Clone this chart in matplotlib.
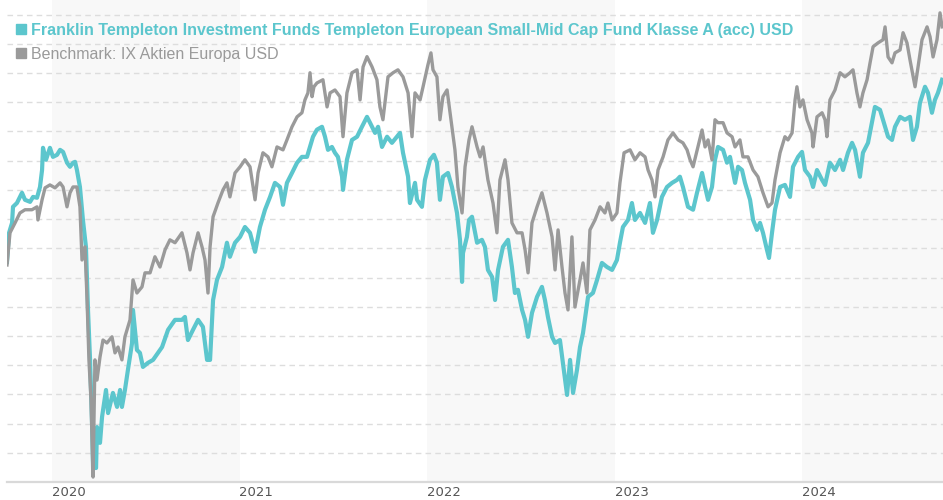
import matplotlib.pyplot as plt
from matplotlib.lines import Line2D

# performance index, time in decimal years
fund_t = [2019.760, 2019.771, 2019.787, 2019.792, 2019.813, 2019.840, 2019.856, 2019.883, 2019.899, 2019.920,
          2019.936, 2019.947, 2019.952, 2019.968, 2019.989, 2020.005, 2020.027, 2020.043, 2020.059, 2020.080,
          2020.096, 2020.112, 2020.123, 2020.133, 2020.149, 2020.165, 2020.181, 2020.192, 2020.203, 2020.213,
          2020.219, 2020.235, 2020.240, 2020.256, 2020.267, 2020.288, 2020.299, 2020.325, 2020.347, 2020.363,
          2020.373, 2020.389, 2020.405, 2020.427, 2020.432, 2020.453, 2020.469, 2020.485, 2020.512, 2020.539,
          2020.565, 2020.587, 2020.619, 2020.656, 2020.693, 2020.709, 2020.725, 2020.752, 2020.779, 2020.805,
          2020.827, 2020.843, 2020.859, 2020.880, 2020.907, 2020.933, 2020.949, 2020.976, 2021.003, 2021.029,
          2021.056, 2021.083, 2021.109, 2021.136, 2021.163, 2021.189, 2021.216, 2021.232, 2021.253, 2021.280,
          2021.307, 2021.333, 2021.360, 2021.376, 2021.392, 2021.413, 2021.440, 2021.456, 2021.472, 2021.493,
          2021.509, 2021.525, 2021.547, 2021.552, 2021.573, 2021.600, 2021.627, 2021.653, 2021.680, 2021.696,
          2021.723, 2021.739, 2021.760, 2021.787, 2021.813, 2021.840, 2021.856, 2021.872, 2021.899, 2021.909,
          2021.936, 2021.947, 2021.973, 2021.989, 2022.016, 2022.037, 2022.053, 2022.069, 2022.085, 2022.112,
          2022.133, 2022.160, 2022.176, 2022.187, 2022.192, 2022.213, 2022.224, 2022.240, 2022.267, 2022.293,
          2022.309, 2022.325, 2022.347, 2022.363, 2022.379, 2022.405, 2022.432, 2022.453, 2022.469, 2022.485,
          2022.507, 2022.523, 2022.539, 2022.560, 2022.587, 2022.613, 2022.629, 2022.645, 2022.667, 2022.683,
          2022.709, 2022.725, 2022.747, 2022.763, 2022.779, 2022.800, 2022.816, 2022.832, 2022.859, 2022.885,
          2022.907, 2022.933, 2022.960, 2022.987, 2023.013, 2023.029, 2023.045, 2023.072, 2023.093, 2023.109,
          2023.136, 2023.163, 2023.189, 2023.205, 2023.227, 2023.253, 2023.280, 2023.307, 2023.333, 2023.349,
          2023.365, 2023.392, 2023.419, 2023.440, 2023.467, 2023.483, 2023.499, 2023.520, 2023.536, 2023.552,
          2023.579, 2023.600, 2023.616, 2023.643, 2023.659, 2023.680, 2023.696, 2023.723, 2023.739, 2023.760,
          2023.776, 2023.792, 2023.813, 2023.824, 2023.840, 2023.856, 2023.883, 2023.909, 2023.936, 2023.952,
          2023.979, 2024.000, 2024.016, 2024.043, 2024.059, 2024.080, 2024.107, 2024.123, 2024.149, 2024.176,
          2024.203, 2024.219, 2024.245, 2024.267, 2024.283, 2024.309, 2024.325, 2024.352, 2024.373, 2024.389,
          2024.416, 2024.432, 2024.459, 2024.480, 2024.496, 2024.523, 2024.549, 2024.576, 2024.592, 2024.613,
          2024.629, 2024.656, 2024.672, 2024.693, 2024.709, 2024.725, 2024.747]
fund_v = [75.3, 85.3, 88.7, 94.2, 95.5, 99.0, 96.6, 95.9, 97.6, 97.3,
          101.0, 106.8, 114.4, 110.3, 114.4, 111.3, 112.0, 113.7, 113.0, 109.3,
          107.9, 109.3, 109.6, 106.8, 101.0, 89.7, 80.5, 58.9, 41.8, 21.2,
          4.8, 4.8, 18.8, 13.4, 22.3, 31.5, 23.6, 30.5, 25.7, 31.5,
          25.7, 31.5, 38.4, 47.6, 58.9, 45.2, 44.2, 39.4, 40.8, 41.8,
          44.2, 46.2, 52.1, 55.5, 55.5, 56.5, 48.6, 52.1, 55.5, 53.1,
          41.8, 41.8, 62.3, 69.2, 73.6, 81.9, 77.1, 81.9, 83.9, 87.3,
          85.3, 78.8, 87.3, 93.2, 97.6, 102.4, 101.0, 94.9, 102.4, 105.8,
          109.3, 111.3, 111.3, 114.7, 118.2, 120.6, 121.6, 118.2, 113.7, 114.7,
          112.7, 111.3, 104.5, 100.0, 110.3, 117.1, 118.2, 121.6, 125.0, 123.0,
          119.5, 121.6, 114.7, 118.2, 116.1, 118.2, 119.5, 112.7, 104.5, 95.5,
          102.4, 96.6, 94.2, 103.4, 110.3, 112.0, 109.3, 96.6, 104.5, 105.8,
          101.0, 92.1, 82.9, 68.5, 78.4, 83.9, 89.7, 90.8, 81.9, 82.9,
          80.5, 72.6, 70.2, 62.3, 72.6, 80.5, 82.9, 73.6, 64.7, 65.8,
          58.9, 55.5, 49.7, 57.9, 63.4, 66.8, 62.3, 56.5, 49.7, 47.6,
          48.6, 40.8, 29.8, 41.8, 30.5, 38.4, 46.2, 51.0, 63.4, 64.7,
          69.2, 75.0, 73.6, 72.6, 76.0, 81.9, 87.3, 89.7, 95.5, 89.7,
          92.1, 88.7, 95.5, 85.3, 89.7, 97.6, 101.0, 102.4, 103.4, 104.5,
          101.0, 94.2, 93.2, 99.0, 105.8, 101.0, 96.6, 101.0, 110.3, 114.7,
          113.7, 109.3, 111.3, 102.4, 107.9, 106.8, 102.4, 96.6, 89.7, 86.3,
          88.7, 85.3, 79.5, 76.7, 85.3, 93.2, 101.0, 101.7, 97.6, 107.9,
          111.3, 113.0, 106.8, 104.5, 101.0, 106.8, 103.4, 101.7, 109.3, 106.8,
          110.3, 106.8, 112.7, 116.1, 113.7, 104.5, 112.7, 116.1, 123.0, 128.4,
          127.4, 124.0, 118.2, 117.1, 121.6, 125.0, 124.0, 125.0, 117.1, 121.6,
          129.8, 135.3, 133.2, 126.4, 130.8, 133.2, 137.7]

bench_t = [2019.760, 2019.776, 2019.803, 2019.829, 2019.856, 2019.893, 2019.920, 2019.925, 2019.947, 2019.963,
           2019.989, 2020.016, 2020.043, 2020.059, 2020.080, 2020.096, 2020.112, 2020.133, 2020.149, 2020.160,
           2020.176, 2020.187, 2020.197, 2020.208, 2020.219, 2020.229, 2020.240, 2020.256, 2020.272, 2020.293,
           2020.320, 2020.336, 2020.352, 2020.373, 2020.389, 2020.416, 2020.432, 2020.453, 2020.480, 2020.496,
           2020.523, 2020.549, 2020.576, 2020.603, 2020.629, 2020.656, 2020.693, 2020.720, 2020.736, 2020.752,
           2020.779, 2020.800, 2020.816, 2020.832, 2020.843, 2020.859, 2020.885, 2020.912, 2020.933, 2020.949,
           2020.976, 2021.003, 2021.029, 2021.056, 2021.083, 2021.099, 2021.125, 2021.152, 2021.173, 2021.200,
           2021.232, 2021.253, 2021.280, 2021.307, 2021.333, 2021.349, 2021.365, 2021.376, 2021.387, 2021.397,
           2021.413, 2021.445, 2021.467, 2021.483, 2021.509, 2021.536, 2021.552, 2021.573, 2021.600, 2021.627,
           2021.643, 2021.659, 2021.680, 2021.707, 2021.733, 2021.749, 2021.765, 2021.792, 2021.819, 2021.845,
           2021.872, 2021.899, 2021.920, 2021.936, 2021.963, 2021.979, 2022.005, 2022.021, 2022.032, 2022.053,
           2022.069, 2022.085, 2022.107, 2022.123, 2022.149, 2022.165, 2022.187, 2022.203, 2022.224, 2022.240,
           2022.267, 2022.283, 2022.299, 2022.325, 2022.352, 2022.373, 2022.389, 2022.416, 2022.432, 2022.453,
           2022.480, 2022.507, 2022.523, 2022.539, 2022.560, 2022.587, 2022.613, 2022.640, 2022.667, 2022.683,
           2022.699, 2022.720, 2022.736, 2022.752, 2022.773, 2022.789, 2022.816, 2022.832, 2022.853, 2022.869,
           2022.896, 2022.923, 2022.949, 2022.965, 2022.987, 2023.013, 2023.029, 2023.051, 2023.083, 2023.109,
           2023.136, 2023.163, 2023.179, 2023.200, 2023.216, 2023.232, 2023.259, 2023.285, 2023.312, 2023.339,
           2023.365, 2023.387, 2023.403, 2023.419, 2023.445, 2023.467, 2023.483, 2023.499, 2023.520, 2023.536,
           2023.552, 2023.579, 2023.600, 2023.627, 2023.643, 2023.669, 2023.685, 2023.712, 2023.739, 2023.765,
           2023.792, 2023.819, 2023.840, 2023.856, 2023.883, 2023.909, 2023.925, 2023.947, 2023.963, 2023.973,
           2023.989, 2024.005, 2024.027, 2024.053, 2024.059, 2024.080, 2024.107, 2024.123, 2024.133, 2024.149,
           2024.176, 2024.203, 2024.229, 2024.256, 2024.272, 2024.293, 2024.309, 2024.325, 2024.347, 2024.363,
           2024.379, 2024.405, 2024.432, 2024.443, 2024.459, 2024.480, 2024.496, 2024.523, 2024.539, 2024.560,
           2024.576, 2024.603, 2024.619, 2024.640, 2024.667, 2024.683, 2024.699, 2024.720, 2024.736, 2024.747]
bench_v = [74.3, 85.3, 88.7, 92.1, 93.2, 93.2, 94.2, 89.7, 96.6, 100.7,
           101.7, 100.7, 102.4, 101.0, 94.2, 99.0, 101.0, 101.0, 94.2, 76.0,
           80.5, 62.3, 41.8, 28.1, 1.7, 41.8, 34.9, 42.8, 48.6, 47.6,
           49.7, 44.2, 46.2, 41.8, 49.7, 55.5, 69.2, 64.7, 66.8, 71.6,
           71.6, 77.1, 73.6, 79.5, 82.9, 81.9, 85.3, 78.4, 72.6, 78.4,
           85.3, 80.5, 76.0, 64.7, 80.5, 90.8, 95.5, 100.0, 102.4, 97.6,
           105.8, 107.9, 110.3, 107.9, 96.6, 105.8, 112.7, 111.3, 107.9, 114.7,
           113.7, 117.1, 121.6, 125.0, 126.4, 130.8, 133.2, 140.1, 131.9, 135.3,
           136.6, 137.7, 128.4, 133.2, 134.2, 131.9, 118.2, 133.2, 140.1, 141.1,
           130.8, 142.1, 145.6, 142.1, 137.7, 128.4, 124.0, 138.7, 140.1, 141.1,
           138.7, 133.2, 118.2, 133.2, 130.8, 135.3, 142.8, 146.9, 141.1, 138.7,
           124.0, 131.9, 134.2, 126.4, 113.7, 101.0, 92.1, 107.9, 117.1, 121.6,
           114.7, 111.3, 114.7, 103.4, 95.5, 85.3, 103.4, 110.3, 103.4, 88.7,
           85.3, 85.3, 79.5, 71.6, 88.7, 94.2, 99.0, 92.1, 83.9, 72.6,
           86.3, 73.6, 64.7, 58.9, 83.9, 59.9, 69.2, 75.0, 64.7, 86.3,
           89.7, 94.2, 92.1, 95.5, 89.7, 92.1, 102.4, 112.7, 113.7, 110.3,
           112.7, 111.3, 106.8, 103.4, 97.6, 106.8, 111.3, 117.1, 119.5, 117.1,
           116.1, 113.7, 110.3, 107.9, 114.7, 120.5, 114.7, 117.1, 110.3, 124.0,
           123.0, 123.0, 119.5, 118.2, 114.7, 117.1, 111.3, 111.3, 106.8, 104.5,
           99.0, 94.2, 95.5, 103.4, 112.7, 118.2, 117.1, 119.5, 130.8, 135.3,
           128.4, 130.8, 124.0, 119.5, 114.7, 125.0, 126.4, 124.0, 118.2, 130.8,
           134.2, 140.1, 138.7, 140.1, 141.1, 133.2, 128.4, 133.2, 137.7, 143.5,
           149.0, 150.3, 151.4, 155.8, 145.5, 143.5, 146.9, 147.9, 153.8, 150.3,
           144.5, 135.3, 142.1, 151.4, 155.8, 152.4, 145.5, 151.4, 160.6, 155.8]

years = [2020, 2021, 2022, 2023, 2024]
shaded_years = [2020, 2022, 2024]

fund_name = 'Franklin Templeton Investment Funds Templeton European Small-Mid Cap Fund Klasse A (acc) USD'
bench_name = 'Benchmark: IX Aktien Europa USD'

teal = '#5CC6CD'
grey = '#9A9A9A'

fig = plt.figure(figsize=(9.43, 5.0), dpi=100)
ax = fig.add_axes([7 / 943, 18 / 500, 936 / 943, 482 / 500])

for y0 in shaded_years:
    ax.axvspan(y0, y0 + 1, color='#F8F8F8', lw=0, zorder=0)

for g in range(10, 170, 10):
    ax.axhline(g, color='#DDDDDD', lw=1.0, ls=(0, (4, 3)), zorder=1)

ax.plot(fund_t, fund_v, color=teal, lw=3.0, zorder=3)
ax.plot(bench_t, bench_v, color=grey, lw=2.4, zorder=4)

ax.set_xlim(2019.76, 2024.752)
ax.set_ylim(0, 165)

for s in ['top', 'right', 'left']:
    ax.spines[s].set_visible(False)
ax.spines['bottom'].set_color('#D9D9D9')
ax.spines['bottom'].set_linewidth(1.6)

ax.set_yticks([])
ax.set_xticks(years)
ax.set_xticklabels([str(y) for y in years], ha='left', color='#555555',
                   fontsize=9.5, fontfamily='DejaVu Sans')
ax.tick_params(axis='x', length=0, pad=3)

handles = [Line2D([], [], ls='none', marker='s', markersize=6.5, color=teal),
           Line2D([], [], ls='none', marker='s', markersize=6.5, color=grey)]
leg = ax.legend(handles, [fund_name, bench_name], loc='upper left', bbox_to_anchor=(0.0, 0.972),
                frameon=False, handlelength=0.6, handletextpad=0.3, labelspacing=0.55,
                borderaxespad=0.2, prop={'family': 'Liberation Sans', 'size': 11.5})
leg.get_texts()[0].set_color(teal)
leg.get_texts()[0].set_fontweight('bold')
leg.get_texts()[1].set_color(grey)
leg.set_zorder(5)

fig.savefig('out.png', dpi=100)
